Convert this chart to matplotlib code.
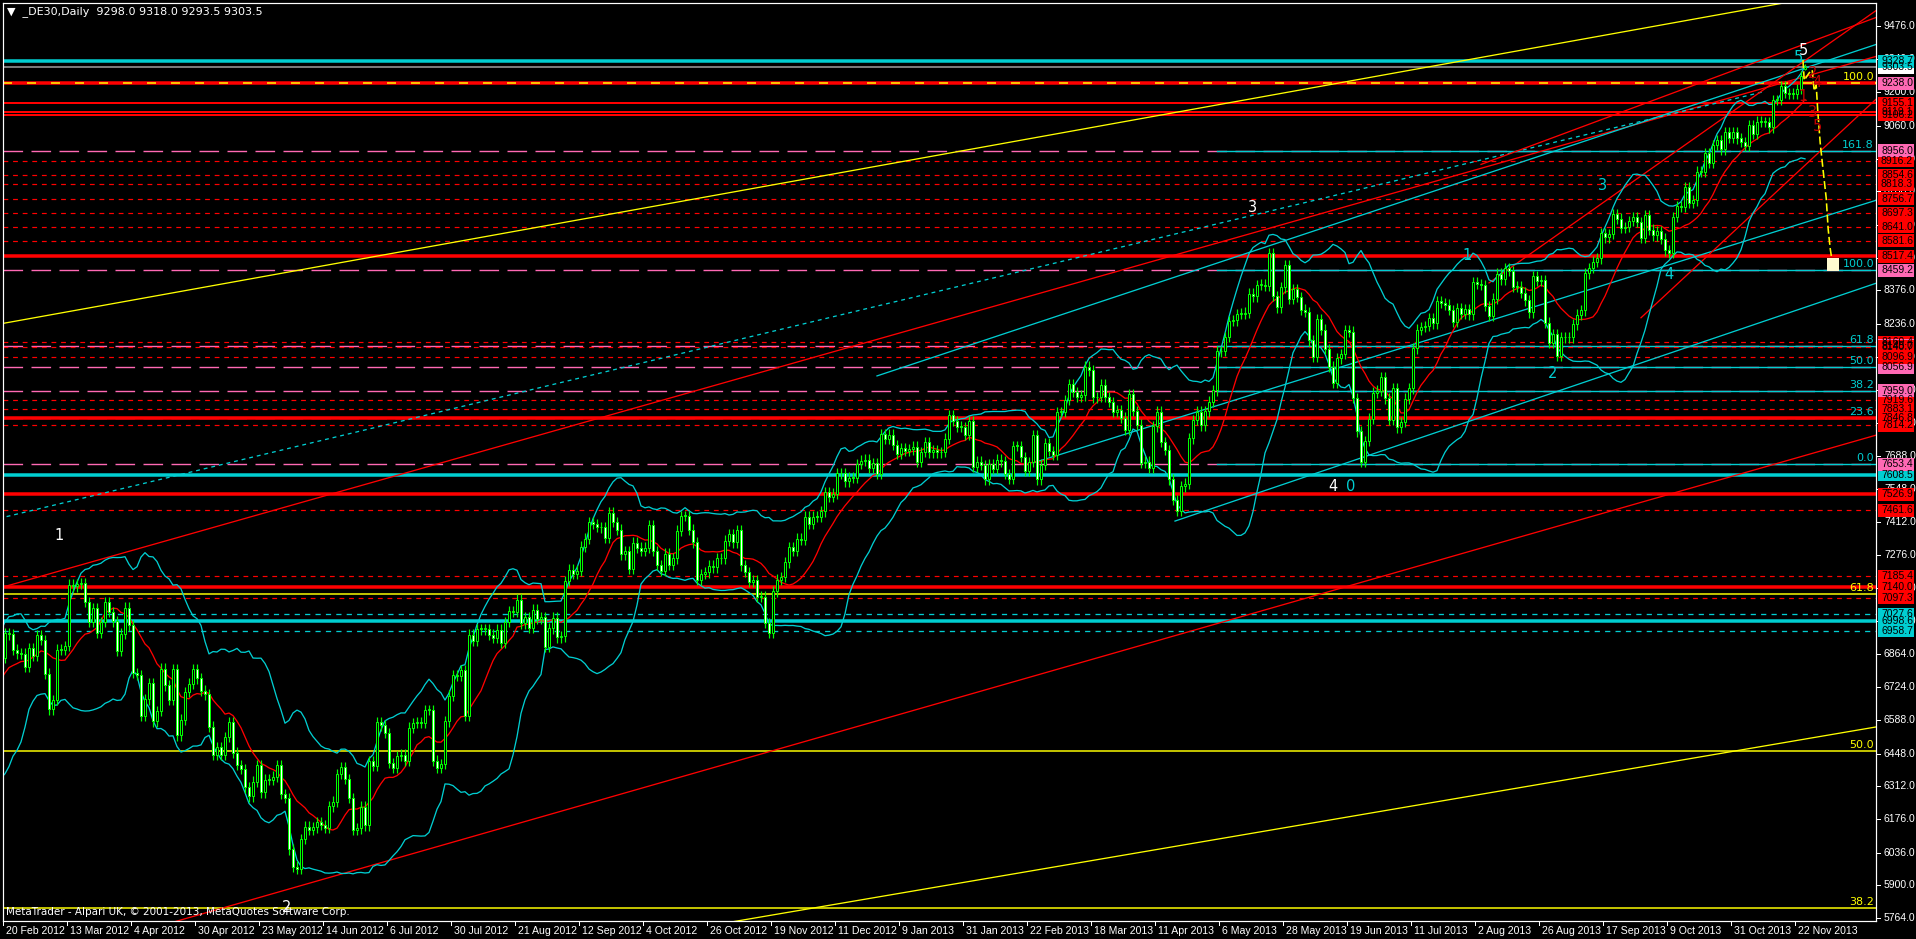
import numpy as np
import pandas as pd
import matplotlib
matplotlib.use("Agg")
import matplotlib.pyplot as plt
from matplotlib.patches import Rectangle
from matplotlib.transforms import blended_transform_factory

##### DATA #####
# daily closes before the first visible bar (20 Feb 2012), only feed the indicators
PRE_CLOSES = [6404, 6436, 6419, 6422, 6540, 6511, 6444, 6458, 6616, 6656, 6766,
              6765, 6754, 6793, 6824, 6693, 6800, 6730, 6834, 6783, 6848]

# visible daily closes, 20 Feb 2012 .. 26 Nov 2013 (16 bars per date label)
CLOSES = [
    6949, 6945, 6881, 6865, 6864, 6810, 6888, 6856, 6941, 6921, 6781, 6633, 6671, 6881, 6880, 6896,
    7152, 7144, 7154, 7157, 7079, 6996, 7054, 6950, 6996, 7079, 7038, 6999, 6875, 6947, 7056, 6982,
    6784, 6775, 6606, 6674, 6743, 6583, 6625, 6802, 6732, 6671, 6801, 6524, 6590, 6704, 6740, 6801,
    6761, 6710, 6695, 6561, 6444, 6475, 6444, 6518, 6579, 6453, 6401, 6385, 6308, 6271, 6332, 6401,
    6287, 6340, 6339, 6353, 6400, 6281, 6264, 6050, 5978, 5969, 6093, 6144, 6130, 6141, 6162, 6152,
    6138, 6229, 6248, 6363, 6392, 6343, 6263, 6132, 6137, 6228, 6150, 6416, 6397, 6578, 6566, 6535,
    6410, 6388, 6438, 6444, 6419, 6557, 6576, 6579, 6575, 6630, 6630, 6419, 6390, 6406, 6583, 6690,
    6775, 6772, 6796, 6606, 6944, 6918, 6967, 6966, 6967, 6944, 6929, 6964, 6910, 6996, 7040, 7039,
    7089, 6990, 7017, 6971, 7047, 7010, 7017, 6894, 6970, 7014, 6932, 6936, 7167, 7214, 7197, 7210,
    7310, 7343, 7412, 7403, 7391, 7390, 7347, 7451, 7413, 7380, 7277, 7290, 7216, 7326, 7305, 7291,
    7306, 7398, 7291, 7234, 7208, 7281, 7233, 7261, 7376, 7437, 7437, 7380, 7328, 7172, 7196, 7203,
    7231, 7223, 7261, 7261, 7335, 7363, 7327, 7377, 7232, 7204, 7163, 7169, 7101, 7102, 6991, 6950,
    7124, 7172, 7184, 7244, 7309, 7292, 7343, 7339, 7435, 7405, 7435, 7434, 7457, 7535, 7518, 7530,
    7614, 7614, 7581, 7597, 7596, 7654, 7668, 7672, 7636, 7656, 7612, 7779, 7757, 7776, 7732, 7695,
    7720, 7708, 7715, 7726, 7662, 7703, 7744, 7702, 7711, 7702, 7704, 7759, 7857, 7833, 7809, 7808,
    7776, 7833, 7641, 7663, 7650, 7590, 7652, 7634, 7672, 7665, 7611, 7593, 7729, 7728, 7682, 7625,
    7661, 7773, 7590, 7651, 7741, 7708, 7691, 7870, 7870, 7919, 7986, 7953, 7932, 7939, 8058, 8043,
    7931, 7932, 7984, 7932, 7912, 7870, 7879, 7846, 7795, 7943, 7874, 7817, 7658, 7663, 7637, 7810,
    7871, 7745, 7712, 7590, 7504, 7459, 7560, 7572, 7760, 7837, 7871, 7814, 7873, 7913, 7960, 8122,
    8123, 8182, 8249, 8251, 8278, 8279, 8283, 8362, 8351, 8398, 8400, 8394, 8530, 8352, 8305, 8389,
    8480, 8340, 8381, 8349, 8296, 8286, 8168, 8100, 8255, 8212, 8132, 8058, 7992, 8093, 8111, 8209,
    8204, 7928, 7789, 7662, 7749, 7842, 7950, 7959, 8014, 7927, 7836, 7968, 7806, 7829, 7926, 7968,
    8135, 8212, 8224, 8227, 8259, 8239, 8331, 8323, 8317, 8295, 8245, 8302, 8278, 8297, 8276, 8409,
    8403, 8398, 8311, 8271, 8342, 8445, 8422, 8468, 8456, 8391, 8391, 8367, 8335, 8284, 8436, 8416,
    8419, 8242, 8158, 8195, 8103, 8181, 8181, 8180, 8234, 8275, 8293, 8447, 8469, 8495, 8509, 8613,
    8596, 8610, 8694, 8675, 8635, 8640, 8665, 8680, 8661, 8594, 8689, 8629, 8605, 8623, 8591, 8542,
    8533, 8681, 8725, 8724, 8806, 8741, 8750, 8870, 8869, 8947, 8907, 8980, 9001, 8963, 9034, 9010,
    9033, 9009, 8993, 8977, 9063, 9028, 9078, 9077, 9076, 9054, 9168, 9168, 9226, 9197, 9194, 9193,
    9213, 9266,
]
LAST_BAR = (9298.0, 9318.0, 9293.5, 9303.5)  # open, high, low, close of the current bar

DATE_LABELS = ["20 Feb 2012", "13 Mar 2012", "4 Apr 2012", "30 Apr 2012", "23 May 2012",
               "14 Jun 2012", "6 Jul 2012", "30 Jul 2012", "21 Aug 2012", "12 Sep 2012",
               "4 Oct 2012", "26 Oct 2012", "19 Nov 2012", "11 Dec 2012", "9 Jan 2013",
               "31 Jan 2013", "22 Feb 2013", "18 Mar 2013", "11 Apr 2013", "6 May 2013",
               "28 May 2013", "19 Jun 2013", "11 Jul 2013", "2 Aug 2013", "26 Aug 2013",
               "17 Sep 2013", "9 Oct 2013", "31 Oct 2013", "22 Nov 2013"]

PRICE_TICKS = [9476, 9340, 9200, 9060, 8924, 8788, 8648, 8512, 8376, 8236, 8100, 7960, 7824,
               7688, 7548, 7412, 7276, 7136, 7000, 6864, 6724, 6588, 6448, 6312, 6176, 6036,
               5900, 5764]

# horizontal levels
CYAN_SOLID = [9328.7, 7608.5, 6998.6]
CYAN_DASHED = [7027.6, 6958.7]
RED_THICK = [9238.0, 8517.4, 7846.8, 7526.9, 7140.0]
RED_THIN = [9155.1, 9119.1, 9106.2]
RED_DASHED = [8916.2, 8854.6, 8818.3, 8756.7, 8697.3, 8641.0, 8581.6, 8160.4, 8140.7,
              8096.9, 7919.6, 7883.1, 7814.2, 7461.6, 7185.4, 7097.3]
CURRENT_PRICE = 9303.5

FIB_CYAN_LEVELS = [7653.4, 7846.8, 7959.0, 8056.9, 8145.0, 8459.2, 8956.0]
FIB_CYAN_TEXT = ["0.0", "23.6", "38.2", "50.0", "61.8", "100.0", "161.8"]
FIB_CYAN_START = 303
FIB_YELLOW_LEVELS = [9238.0, 7113.0, 6459.0, 5806.0]
FIB_YELLOW_TEXT = ["100.0", "61.8", "50.0", "38.2"]

# price boxes on the right scale, in drawing order
BOX_PRICES = [6958.7, 6998.6, 7027.6, 7097.3, 7140.0, 7185.4, 7461.6, 7526.9, 7608.5, 7653.4,
              7814.2, 7846.8, 7883.1, 7919.6, 7959.0, 8056.9, 8096.9, 8160.4, 8145.0, 8140.7,
              8459.2, 8517.4, 8581.6, 8641.0, 8697.3, 8756.7, 8818.3, 8854.6, 8916.2, 8956.0,
              9106.2, 9119.1, 9155.1, 9238.0, 9303.5, 9328.7]
BOX_KIND = ["c", "c", "c", "r", "r", "r", "r", "r", "c", "p",
            "r", "r", "r", "r", "p", "p", "r", "r", "p", "r",
            "p", "r", "r", "r", "r", "r", "r", "r", "r", "p",
            "r", "r", "r", "p", "w", "c"]

# trend lines: (bar1, price1, bar2, price2)
TREND_POINTS = [
    (0, 8240, 400, 9438),      # yellow channel top
    (200, 5800, 468, 6560),    # yellow channel bottom
    (0, 7144, 400, 9030),      # red channel top
    (100, 6023, 400, 7451),    # red channel bottom
    (0, 7433, 440, 9204),      # cyan dotted
    (218, 8020, 400, 9025),    # cyan
    (292.5, 7416, 468, 8407),  # cyan, lower
    (257, 7658, 468, 8752),    # cyan
    (369, 8900, 468, 9513),    # red, top right
    (371, 8407, 468, 9543),    # red, top right
    (409, 8262, 468, 9175),    # red, top right
]
TREND_COLOR = ["#ffff00", "#ffff00", "#ff0000", "#ff0000", "#00ced1", "#00ced1",
               "#00ced1", "#00ced1", "#ff0000", "#ff0000", "#ff0000"]
TREND_DOTTED = [False, False, False, False, True, False, False, False, False, False, False]
TREND_EXTEND_LEFT = [True, True, True, True, True, False, False, False, False, False, False]
TREND_EXTEND_RIGHT = [True, True, True, True, False, True, True, True, True, True, True]

# yellow wave projection after the last bar
PROJ_BARS = [449.5, 449.8, 451.0, 451.8, 452.3, 452.8, 453.2, 453.8, 454.5, 455.3, 455.8, 456.3, 456.8]
PROJ_PRICES = [9334, 9250, 9280, 9293, 9206, 9230, 9120, 8990, 8880, 8760, 8630, 8550, 8495]
TARGET_BOX = (455.6, 458.6, 8457, 8511)

# wave labels: (bar, price, text)
WAVE_WHITE = [(13.5, 7358, "1"), (70.5, 5810, "2"), (312.0, 8719, "3"), (332.0, 7560, "4"),
              (449.5, 9376, "5")]
WAVE_CYAN = [(336.5, 7560, "0"), (365.5, 8523, "1"), (387.0, 8032, "2"), (399.5, 8814, "3"),
             (416.0, 8440, "4"), (448.3, 9347, "5")]
WAVE_RED = [(449.5, 9181, "1"), (452.0, 9280, "2"), (452.0, 9114, "3"), (453.0, 9239, "4"),
            (453.0, 9056, "5")]

##### STYLE #####
W, H = 1916, 939
PLOT_L, PLOT_R, PLOT_T, PLOT_B = 3, 1876, 3, 921
PX_PER_BAR = 4
PRICE_REF, Y_REF, PRICE_PER_PX = 9476.0, 26.0, 4.161
LIME, RED, CYAN, PINK, YELLOW = "#00ff00", "#ff0000", "#00ced1", "#ff69b4", "#ffff00"
PX = 0.72  # one pixel in points
WICK = 22
FONT = "DejaVu Sans"
SCALE_FONT = "Liberation Sans"


def price_at(ypx):
    return PRICE_REF - (ypx - Y_REF) * PRICE_PER_PX


def bar_at(xpx):
    return (xpx - 5) / PX_PER_BAR


closes = PRE_CLOSES + CLOSES
n_pre = len(PRE_CLOSES)
idx = np.arange(len(closes)) - n_pre
opens = [closes[0]] + closes[:-1]
# current bar
idx = np.append(idx, idx[-1] + 1)
opens = opens + [LAST_BAR[0]]
closes_all = closes + [LAST_BAR[3]]

s = pd.Series(closes_all, dtype=float)
mid = s.rolling(20).mean()
sd = s.rolling(20).std(ddof=0)
bb_up = mid + 2 * sd
bb_lo = mid - 2 * sd
ma = s.rolling(13).mean()

fig = plt.figure(figsize=(W / 100, H / 100), dpi=100, facecolor="black")
ax = fig.add_axes([PLOT_L / W, 1 - PLOT_B / H, (PLOT_R - PLOT_L) / W, (PLOT_B - PLOT_T) / H])
ax.set_facecolor("black")
x_lo, x_hi = bar_at(PLOT_L), bar_at(PLOT_R)
y_lo, y_hi = price_at(PLOT_B), price_at(PLOT_T)
ax.set_xlim(x_lo, x_hi)
ax.set_ylim(y_lo, y_hi)
ax.set_xticks([])
ax.set_yticks([])
for sp in ax.spines.values():
    sp.set_color("white")
    sp.set_linewidth(1.2 * PX)

# ----- horizontal levels -----
for p in FIB_CYAN_LEVELS:
    ax.axhline(p, color=PINK, lw=1.4 * PX, dashes=(14, 6), zorder=1)
    ax.plot([FIB_CYAN_START, x_hi], [p, p], color=CYAN, lw=1.4 * PX, zorder=1.1)
for p in RED_DASHED:
    ax.axhline(p, color=RED, lw=1.2 * PX, dashes=(4, 4), zorder=1.2)
for p in RED_THIN:
    ax.axhline(p, color=RED, lw=2 * PX, zorder=1.2)
for p in RED_THICK:
    ax.axhline(p, color=RED, lw=3.5 * PX, zorder=1.3)
for p in CYAN_DASHED:
    ax.axhline(p, color=CYAN, lw=1.3 * PX, dashes=(4, 4), zorder=1.2)
for p in CYAN_SOLID:
    ax.axhline(p, color=CYAN, lw=3.5 * PX, zorder=1.3)
ax.axhline(CURRENT_PRICE, color="#a0a0a0", lw=1.5 * PX, zorder=1.2)
for p, t in zip(FIB_YELLOW_LEVELS, FIB_YELLOW_TEXT):
    if t == "100.0":
        ax.axhline(p, color=YELLOW, lw=1.5 * PX, dashes=(6, 10), zorder=1.4)
    else:
        ax.axhline(p, color=YELLOW, lw=1.5 * PX, zorder=1.4)
    ax.text(x_hi - 0.5, p + 4, t, color=YELLOW, fontsize=8, family=FONT, ha="right", va="bottom", zorder=6)
for p, t in zip(FIB_CYAN_LEVELS, FIB_CYAN_TEXT):
    ax.text(x_hi - 0.5, p + 4, t, color=CYAN, fontsize=8, family=FONT, ha="right", va="bottom", zorder=6)

# ----- trend lines -----
for (b1, p1, b2, p2), col, dot, el, er in zip(TREND_POINTS, TREND_COLOR, TREND_DOTTED,
                                              TREND_EXTEND_LEFT, TREND_EXTEND_RIGHT):
    k = (p2 - p1) / (b2 - b1)
    xa = x_lo - 5 if el else b1
    xb = x_hi + 5 if er else b2
    kw = dict(dashes=(3, 3)) if dot else {}
    ax.plot([xa, xb], [p1 + k * (xa - b1), p1 + k * (xb - b1)], color=col, lw=1.3 * PX, zorder=1.5, **kw)

# ----- indicators -----
ax.plot(idx, bb_up, color=CYAN, lw=1.3 * PX, zorder=2)
ax.plot(idx, bb_lo, color=CYAN, lw=1.3 * PX, zorder=2)
ax.plot(idx, ma, color=RED, lw=1.3 * PX, zorder=2)

# ----- candles -----
o = np.array(opens, dtype=float)
c = np.array(closes_all, dtype=float)
hi = np.maximum(o, c) + WICK
lo = np.minimum(o, c) - WICK
hi[-1], lo[-1] = LAST_BAR[1], LAST_BAR[2]
ax.vlines(idx, lo, hi, color=LIME, lw=1.2 * PX, zorder=3)
body_lo = np.minimum(o, c)
body_h = np.maximum(np.abs(c - o), 3)
face = np.where(c >= o, "black", "white")
ax.bar(idx, body_h, bottom=body_lo, width=0.6, color=face, edgecolor=LIME, linewidth=1.0 * PX, zorder=3.1)

# ----- projection -----
ax.plot(PROJ_BARS, PROJ_PRICES, color=YELLOW, lw=1.6 * PX, dashes=(5, 2), zorder=4)
b0, b1_, p0, p1_ = TARGET_BOX
ax.add_patch(Rectangle((b0, p0), b1_ - b0, p1_ - p0, facecolor="#fffbd0", edgecolor="none", zorder=4))

# ----- wave labels -----
for b, p, t in WAVE_WHITE:
    ax.text(b, p, t, color="white", fontsize=10.5, family=FONT, ha="center", va="center", zorder=7)
for b, p, t in WAVE_CYAN:
    ax.text(b, p, t, color=CYAN, fontsize=10.5, family=FONT, ha="center", va="center", zorder=7)
for b, p, t in WAVE_RED:
    ax.text(b, p, t, color="#c00000", fontsize=10.5, family=FONT, ha="center", va="center", zorder=7)

# ----- right price scale -----
tr = blended_transform_factory(fig.transFigure, ax.transData)
for p in PRICE_TICKS:
    ax.plot([PLOT_R / W, (PLOT_R + 4) / W], [p, p], color="white", lw=PX, transform=tr, clip_on=False)
    ax.text((PLOT_R + 8) / W, p, f"{p:.1f}", color="white", fontsize=7.5, family=SCALE_FONT,
            ha="left", va="center", transform=tr, clip_on=False)
box_bg = {"r": RED, "p": PINK, "c": CYAN, "w": "white"}
box_h = 13 * PRICE_PER_PX
for p, k in zip(BOX_PRICES, BOX_KIND):
    ax.add_patch(Rectangle(((PLOT_R + 2) / W, p - box_h / 2), 36 / W, box_h, facecolor=box_bg[k],
                           edgecolor="none", transform=tr, clip_on=False, zorder=8))
    ax.text((PLOT_R + 21) / W, p, f"{p:.1f}", color="black", fontsize=7.5, family=SCALE_FONT,
            ha="center", va="center", transform=tr, clip_on=False, zorder=9)

# ----- date scale -----
for i, lab in enumerate(DATE_LABELS):
    xp = PLOT_L + i * 16 * PX_PER_BAR
    fig.add_artist(plt.Line2D([xp / W, xp / W], [1 - PLOT_B / H, 1 - (PLOT_B + 4) / H], color="white", lw=PX))
    fig.text((xp + 3) / W, 1 - 931 / H, lab, color="white", fontsize=7.6, family=SCALE_FONT,
             ha="left", va="center")

# ----- captions -----
fig.text(7 / W, 1 - 12 / H, "\u25bc  _DE30,Daily  9298.0 9318.0 9293.5 9303.5", color="white",
         fontsize=8, family=FONT, ha="left", va="center")
fig.text(6 / W, 1 - 912 / H, "MetaTrader - Alpari UK, \u00a9 2001-2013, MetaQuotes Software Corp.",
         color="white", fontsize=7.5, family=FONT, ha="left", va="center")

fig.savefig("out.png", dpi=100, facecolor="black")
